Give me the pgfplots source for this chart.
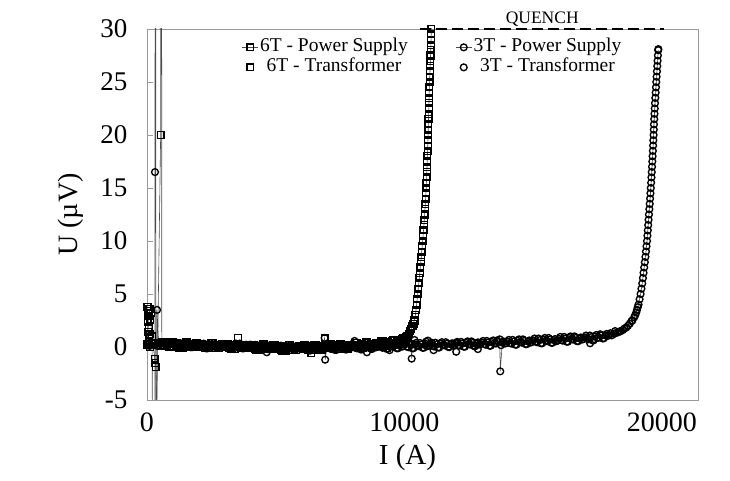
\documentclass[border=0pt]{standalone}
\usepackage{fontspec}
\setmainfont{Liberation Serif}
\usepackage{pgfplots}
\pgfplotsset{compat=1.18}
\begin{document}
\begin{tikzpicture}
\useasboundingbox (-147pt,-81pt) rectangle (583pt,400pt);
\begin{axis}[
  scale only axis, width=551pt, height=371pt,
  xmin=0, xmax=21400, ymin=-5, ymax=30,
  xtick={0,10000,20000}, ytick={-5,0,5,10,15,20,25,30},
  scaled x ticks=false,
  /pgf/number format/assume math mode=true,
  /pgf/number format/1000 sep={},
  axis line style={gray!80, line width=0.8pt},
  tick align=inside, ytick pos=left, xtick pos=bottom,
  xtick style={draw=none}, ytick style={gray!80, line width=0.6pt},
  major tick length=6pt,
  xticklabel style={font=\fontsize{28}{28}\selectfont, yshift=-9pt},
  yticklabel style={font=\fontsize{27}{27}\selectfont, xshift=-16pt},
  xlabel={I (A)}, ylabel={U (µV)},
  every axis x label/.style={at={(rel axis cs:0.5,0)}, xshift=-15pt, yshift=-58pt, anchor=center, font=\fontsize{29}{29}\selectfont},
  every axis y label/.style={at={(rel axis cs:0,0.5)}, xshift=-76pt, rotate=90, anchor=center, font=\fontsize{28}{28}\selectfont},
  legend columns=2,
  legend style={draw=none, fill=none, at={(rel axis cs:0.172,0.978)}, anchor=north west,
    font=\fontsize{19.5}{19.5}\selectfont, row sep=0pt, inner sep=0pt,
    nodes={inner sep=1.5pt, text height=13pt, text depth=4pt},
    /tikz/every even column/.append style={column sep=46pt}},
  legend image code/.code={\draw[mark repeat=2,mark phase=2,#1] plot coordinates {(0pt,0pt)(8pt,0pt)(16pt,0pt)};},
  mymark/.style={mark size=3.4pt, mark options={solid, draw=black, line width=1.35pt}},
  after end axis/.code={
    \draw[black, line width=2.6pt, dash pattern=on 11pt off 5pt] (axis cs:10620,30) -- (axis cs:20080,30);
    \node[anchor=base, font=\fontsize{17.5}{17.5}\selectfont] at ([yshift=5.5pt]axis cs:15350,30) {QUENCH};
  },
]
% 6T - Power Supply
\addplot[black!70, line width=0.6pt, mark=square, mymark] coordinates {
(0,0.3)(100,3.6)(200,1.0)(300,-1.1)(320,-1.5)(340,-1.9)(380,-6)(530,20)(560,100)(575,0.45)
(700,0.10)(800,0.30)(900,0.00)(1000,0.50)
(1100,0.38)(1200,0.03)(1300,0.23)(1400,-0.07)(1500,0.43)(1600,0.13)(1700,0.28)(1800,-0.02)(1900,0.33)(2000,0.18)
(2100,0.32)(2200,-0.03)(2300,0.17)(2400,-0.13)(2500,0.37)(2600,0.07)(2700,0.22)(2800,-0.08)(2900,0.27)(3000,0.12)
(3100,0.27)(3200,-0.08)(3300,0.12)(3400,-0.18)(3500,0.32)(3600,0.02)(3700,0.17)(3800,-0.13)(3900,0.22)(4000,0.07)
(4100,0.2)(4200,-0.15)(4300,0.05)(4400,-0.25)(4500,0.25)(4600,-0.05)(4700,0.1)(4800,-0.2)(4900,0.15)(5000,0)
(5100,0.12)(5200,-0.23)(5300,-0.03)(5400,-0.33)(5500,0.17)(5600,-0.13)(5700,0.02)(5800,-0.28)(5900,0.07)(6000,-0.08)
(6100,0.15)(6200,-0.2)(6300,0)(6400,-0.3)(6500,0.2)(6600,-0.1)(6700,0.05)(6800,-0.25)(6900,0.1)(7000,-0.05)
(7100,0.25)(7200,-0.1)(7300,0.1)(7400,-0.2)(7500,0.3)(7600,0)(7700,0.15)(7800,-0.15)(7900,0.2)(8000,0.05)
(8100,0.38)(8200,0.03)(8300,0.23)(8400,-0.07)(8500,0.43)(8600,0.13)(8700,0.28)(8800,-0.02)(8900,0.33)(9000,0.18)
(9100,0.52)(9200,0.17)(9300,0.37)(9400,0.07)(9500,0.57)
(9600,0.41)(9700,0.62)(9800,0.38)(9900,0.79)(10000,0.70)
(10060,0.85)(10120,1)(10220,1.5)(10310,2)(10370,2.4)(10425,3)(10470,4)(10515,5)(10555,6)(10595,7)(10635,8)(10670,9)(10705,10)
(10740,11)(10770,12)(10795,13)(10820,14)(10845,15)(10860,16)(10875,17)(10890,18)(10905,19)(10918,20)(10928,21)(10940,22)
(10950,23)(10960,24)(10975,25)(10990,26)(11005,27)(11020,28)(11032,29)(11045,30)(11060,32)
};
\addlegendentry{6T - Power Supply}
% 3T - Power Supply
\addplot[black!70, line width=0.6pt, mark=o, mymark] coordinates {
(0,0.3)(100,0.1)(200,0.4)(290,-80)(310,16.5)(330,100)(350,-50)(390,3.5)(450,0.2)(500,0.35)
(600,0.15)(700,0.45)(800,0.00)(900,0.35)(1000,0.25)
(1100,0.08)(1200,0.38)(1300,-0.07)(1400,0.28)(1500,0.18)(1600,0.43)(1700,-0.02)(1800,0.23)(1900,0.13)(2000,0.33)
(2100,0.02)(2200,0.32)(2300,-0.13)(2400,0.22)(2500,0.12)(2600,0.37)(2700,-0.08)(2800,0.17)(2900,0.07)(3000,0.27)
(3100,-0.03)(3200,0.27)(3300,-0.18)(3400,0.17)(3500,0.07)(3600,0.32)(3700,-0.13)(3800,0.12)(3900,0.02)(4000,0.22)
(4100,-0.1)(4200,0.2)(4300,-0.25)(4400,0.1)(4500,0)(4600,0.25)(4700,-0.2)(4800,0.05)(4900,-0.05)(5000,0.15)
(5100,-0.18)(5200,0.12)(5300,-0.33)(5400,0.02)(5500,-0.08)(5600,0.17)(5700,-0.28)(5800,-0.03)(5900,-0.13)(6000,0.07)
(6100,-0.18)(6200,0.12)(6300,-0.33)(6400,0.02)(6500,-0.08)(6600,0.17)(6700,-0.28)(6800,-0.03)(6900,0.85)(6920,-1.2)(7000,0.07)
(7100,-0.13)(7200,0.17)(7300,-0.28)(7400,0.07)(7500,-0.03)(7600,0.22)(7700,-0.23)(7800,0.02)(7900,-0.08)(8000,0.12)
(8100,-0.08)(8200,0.22)(8300,-0.23)(8400,0.12)(8500,0.02)(8600,0.27)(8700,-0.18)(8800,0.07)(8900,-0.03)(9000,0.17)
(9100,-0.02)(9200,0.28)(9300,-0.17)(9400,0.18)(9500,0.08)(9600,0.33)(9700,-0.12)(9800,0.13)(9900,0.03)(10000,0.23)
(10100,0.03)(10200,0.33)(10260,0.3)(10280,-1.1)(10300,-0.12)(10400,0.23)(10500,0.13)(10600,0.38)(10700,-0.07)(10800,0.18)(10900,0.08)(11000,0.28)
(11100,0.1)(11200,0.4)(11300,-0.05)(11400,0.3)(11500,0.2)(11600,0.45)(11700,0)(11800,0.25)(11900,0.15)(12000,0.35)
(12100,0.18)(12200,0.48)(12300,0.03)(12400,0.38)(12500,0.28)(12600,0.53)(12700,0.08)(12800,0.33)(12900,0.23)(13000,0.43)
(13100,0.27)(13200,0.57)(13300,0.12)(13400,0.47)(13500,0.37)(13600,0.62)(13700,0.72)(13720,-2.3)(13800,0.42)(13900,0.32)(14000,0.52)
(14100,0.37)(14200,0.67)(14300,0.22)(14400,0.57)(14500,0.47)(14600,0.72)(14700,0.27)(14800,0.52)(14900,0.42)(15000,0.62)
(15100,0.5)(15200,0.8)(15300,0.35)(15400,0.7)(15500,0.6)(15600,0.85)(15700,0.4)(15800,0.65)(15900,0.55)(16000,0.75)
(16100,0.65)(16200,0.95)(16300,0.5)(16400,0.85)(16500,0.75)(16600,1.0)(16700,0.55)(16800,0.8)(16900,0.7)(17000,0.9)
(17100,0.78)(17200,1.08)(17300,0.63)(17400,0.98)(17500,0.88)
(17600,1.2)(17700,0.8)(17800,1.1)(17900,1.05)(18000,1.3)
(18150,1.25)(18300,1.4)(18400,1.5)(18550,1.75)(18680,2)(18820,2.45)(18960,3)(19030,3.5)(19090,4)(19170,5)(19235,6)(19285,7)
(19335,8)(19380,9)(19420,10)(19450,11)(19480,12)(19510,13)(19540,14)(19567,15)(19592,16)(19615,17)(19636,18)(19656,19)
(19675,20)(19690,21)(19710,22)(19730,23)(19755,24)(19780,25)(19805,26)(19830,27)(19855,28)
};
\addlegendentry{3T - Power Supply}
% 6T - Transformer
\addplot[only marks, mark=square, mymark] coordinates {
(20,3.8)(40,3.4)(60,2.9)(30,2.4)(70,1.9)(50,1.4)(80,0.9)(90,0.5)(10,0.2)(120,0.0)(150,3.2)(130,2.6)(110,1.2)(180,0.4)(250,0.3)(450,0.35)(550,0.1)
(650,0.15)(750,0.45)(850,0.00)(950,0.35)
(1050,0.08)(1150,0.38)(1250,-0.07)(1350,0.28)(1450,0.18)(1550,0.43)(1650,-0.02)(1750,0.23)(1850,0.13)(1950,0.33)
(2050,0.02)(2150,0.32)(2250,-0.13)(2350,0.22)(2450,0.12)(2550,0.37)(2650,-0.08)(2750,0.17)(2850,0.07)(2950,0.27)
(3050,-0.03)(3150,0.27)(3250,-0.18)(3350,0.17)(3450,0.07)(3550,0.32)(3650,-0.13)(3750,0.12)(3850,0.02)(3950,0.22)
(4050,-0.1)(4150,0.2)(4250,-0.25)(4350,0.1)(4450,0)(4550,0.25)(4650,-0.2)(4750,0.05)(4850,-0.05)(4950,0.15)
(5050,-0.18)(5150,0.12)(5250,-0.33)(5350,0.02)(5450,-0.08)(5550,0.17)(5650,-0.28)(5750,-0.03)(5850,-0.13)(5950,0.07)
(6050,-0.15)(6150,0.15)(6250,-0.3)(6350,0.05)(6450,-0.05)(6550,0.2)(6650,-0.25)(6750,0)(6850,-0.1)(6950,0.1)
(7050,-0.05)(7150,0.25)(7250,-0.2)(7350,0.15)(7450,0.05)(7550,0.3)(7650,-0.15)(7750,0.1)(7850,0)(7950,0.2)
(8050,0.08)(8150,0.38)(8250,-0.07)(8350,0.28)(8450,0.18)(8550,0.43)(8650,-0.02)(8750,0.23)(8850,0.13)(8950,0.33)
(9050,0.22)(9150,0.52)(9250,0.07)(9350,0.42)(9450,0.32)
(9550,0.68)(9650,0.29)(9750,0.60)(9850,0.56)(9950,0.82)(10050,0.9)
(10170,1.2)(10260,1.7)(10350,2.2)(10390,2.5)(10450,3.5)(10492,4.5)(10535,5.5)(10575,6.5)(10615,7.5)(10652,8.5)(10688,9.5)
(10722,10.5)(10755,11.5)(10782,12.5)(10808,13.5)(10832,14.5)(10852,15.5)(10868,16.5)(10882,17.5)(10898,18.5)(10912,19.5)
(10923,20.5)(10934,21.5)(10945,22.5)(10955,23.5)(10968,24.5)(10982,25.5)(10998,26.5)(11012,27.5)(11026,28.5)(11038,29.5)
(3530,0.85)(6385,-0.6)(6900,0.8)
};
\addlegendentry{6T - Transformer}
% 3T - Transformer
\addplot[only marks, mark=o, mymark] coordinates {
(50,0.5)(150,0.2)(250,0.4)(400,0.1)(550,0.3)
(650,0.45)(750,0.10)(850,0.30)(950,0.00)
(1050,0.38)(1150,0.03)(1250,0.23)(1350,-0.07)(1450,0.43)(1550,0.13)(1650,0.28)(1750,-0.02)(1850,0.33)(1950,0.18)
(2050,0.32)(2150,-0.03)(2250,0.17)(2350,-0.13)(2450,0.37)(2550,0.07)(2650,0.22)(2750,-0.08)(2850,0.27)(2950,0.12)
(3050,0.27)(3150,-0.08)(3250,0.12)(3350,-0.18)(3450,0.32)(3550,0.02)(3650,0.17)(3750,-0.13)(3850,0.22)(3950,0.07)
(4050,0.2)(4150,-0.15)(4250,0.05)(4350,-0.25)(4450,0.25)(4550,-0.05)(4650,0.1)(4750,-0.2)(4850,0.15)(4950,0)
(5050,0.12)(5150,-0.23)(5250,-0.03)(5350,-0.33)(5450,0.17)(5550,-0.13)(5650,0.02)(5750,-0.28)(5850,0.07)(5950,-0.08)
(6050,0.12)(6150,-0.23)(6250,-0.03)(6350,-0.33)(6450,0.17)(6550,-0.13)(6650,0.02)(6750,-0.28)(6850,0.07)(6950,-0.08)
(7050,0.17)(7150,-0.18)(7250,0.02)(7350,-0.28)(7450,0.22)(7550,-0.08)(7650,0.07)(7750,-0.23)(7850,0.12)(7950,-0.03)
(8050,0.22)(8150,-0.13)(8250,0.07)(8350,-0.23)(8450,0.27)(8550,-0.03)(8650,0.12)(8750,-0.18)(8850,0.17)(8950,0.02)
(9050,0.28)(9150,-0.07)(9250,0.13)(9350,-0.17)(9450,0.33)(9550,0.03)(9650,0.18)(9750,-0.12)(9850,0.23)(9950,0.08)
(10050,0.33)(10150,-0.02)(10250,0.18)(10350,-0.12)(10450,0.38)(10550,0.08)(10650,0.23)(10750,-0.07)(10850,0.28)(10950,0.13)
(11050,0.4)(11150,0.05)(11250,0.25)(11350,-0.05)(11450,0.45)(11550,0.15)(11650,0.3)(11750,0)(11850,0.35)(11950,0.2)
(12050,0.48)(12150,0.13)(12250,0.33)(12350,0.03)(12450,0.53)(12550,0.23)(12650,0.38)(12750,0.08)(12850,0.43)(12950,0.28)
(13050,0.57)(13150,0.22)(13250,0.42)(13350,0.12)(13450,0.62)(13550,0.32)(13650,0.47)(13750,0.17)(13850,0.52)(13950,0.37)
(14050,0.67)(14150,0.32)(14250,0.52)(14350,0.22)(14450,0.72)(14550,0.42)(14650,0.57)(14750,0.27)(14850,0.62)(14950,0.47)
(15050,0.8)(15150,0.45)(15250,0.65)(15350,0.35)(15450,0.85)(15550,0.55)(15650,0.7)(15750,0.4)(15850,0.75)(15950,0.6)
(16050,0.95)(16150,0.6)(16250,0.8)(16350,0.5)(16450,1.0)(16550,0.7)(16650,0.85)(16750,0.55)(16850,0.9)(16950,0.75)
(17050,1.08)(17150,0.73)(17250,0.93)(17350,0.63)(17450,1.13)
(17550,0.88)(17650,1.08)(17750,0.83)(17850,1.23)(17950,1.13)
(18050,1.1)(18200,1.3)(18350,1.45)(18480,1.6)(18620,1.85)(18750,2.2)(18850,2.5)(18920,2.8)(19000,3.25)(19060,3.75)(19132,4.5)
(19203,5.5)(19260,6.5)(19310,7.5)(19358,8.5)(19400,9.5)(19435,10.5)(19465,11.5)(19495,12.5)(19525,13.5)(19553,14.5)(19580,15.5)
(19603,16.5)(19626,17.5)(19646,18.5)(19666,19.5)(19683,20.5)(19700,21.5)(19720,22.5)(19742,23.5)(19768,24.5)(19792,25.5)
(19818,26.5)(19842,27.5)(19860,28.1)
(4650,-0.5)(8060,0.57)(8540,-0.5)(9420,-0.3)(10390,0.66)(10840,0.5)(10910,0.6)(11130,-0.3)(12010,0.4)(12010,-0.45)
(12850,0.4)(12850,-0.2)(17210,0.35)(18180,1.5)
};
\addlegendentry{3T - Transformer}
\end{axis}
\end{tikzpicture}
\end{document}
